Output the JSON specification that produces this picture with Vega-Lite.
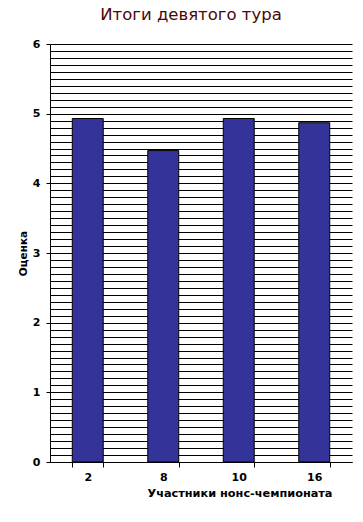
{
  "$schema": "https://vega.github.io/schema/vega-lite/v6.json",
  "width": 302,
  "height": 418,
  "autosize": {"type": "none"},
  "padding": {"left": 50, "top": 44, "right": 11, "bottom": 60},
  "background": "white",
  "title": {
    "text": "Итоги девятого тура",
    "font": "DejaVu Sans",
    "fontSize": 16.5,
    "fontWeight": "normal",
    "color": "#4a0808",
    "anchor": "middle",
    "dx": -10,
    "offset": 15
  },
  "config": {
    "view": {"stroke": null},
    "font": "DejaVu Sans"
  },
  "data": {
    "values": [
      {"participant": "2", "score": 4.93},
      {"participant": "8", "score": 4.47},
      {"participant": "10", "score": 4.93},
      {"participant": "16", "score": 4.87}
    ]
  },
  "mark": {"type": "bar", "color": "#333399", "stroke": "black", "strokeWidth": 1},
  "encoding": {
    "x": {
      "field": "participant",
      "type": "nominal",
      "sort": null,
      "scale": {"paddingInner": 0.59, "paddingOuter": 0.295},
      "axis": {
        "title": "Участники нонс-чемпионата",
        "labelAngle": 0,
        "tickBand": "extent",
        "tickSize": 5,
        "tickColor": "black",
        "domainColor": "black",
        "labelFont": "DejaVu Sans",
        "labelFontWeight": "bold",
        "labelFontSize": 11,
        "labelColor": "black",
        "labelPadding": 4,
        "titleFont": "DejaVu Sans",
        "titleFontWeight": "bold",
        "titleFontSize": 11.3,
        "titleColor": "black",
        "titleX": 282,
        "titleAlign": "right",
        "titlePadding": 5
      }
    },
    "y": {
      "field": "score",
      "type": "quantitative",
      "scale": {"domain": [0, 6], "nice": false},
      "axis": {
        "title": "Оценка",
        "values": [0,0.1,0.2,0.3,0.4,0.5,0.6,0.7,0.8,0.9,1,1.1,1.2,1.3,1.4,1.5,1.6,1.7,1.8,1.9,2,2.1,2.2,2.3,2.4,2.5,2.6,2.7,2.8,2.9,3,3.1,3.2,3.3,3.4,3.5,3.6,3.7,3.8,3.9,4,4.1,4.2,4.3,4.4,4.5,4.6,4.7,4.8,4.9,5,5.1,5.2,5.3,5.4,5.5,5.6,5.7,5.8,5.9,6],
        "labelExpr": "datum.value % 1 === 0 ? format(datum.value, 'd') : ''",
        "labelOverlap": false,
        "grid": true,
        "gridColor": "black",
        "gridOpacity": 1,
        "gridWidth": 1,
        "tickColor": "black",
        "tickSize": 4,
        "tickOpacity": {"condition": {"test": "datum.value % 1 === 0", "value": 1}, "value": 0},
        "domainColor": "black",
        "labelFont": "DejaVu Sans",
        "labelFontWeight": "bold",
        "labelFontSize": 11,
        "labelColor": "black",
        "labelPadding": 6,
        "titleFont": "DejaVu Sans",
        "titleFontWeight": "bold",
        "titleFontSize": 10.5,
        "titleColor": "black",
        "titlePadding": 4
      }
    }
  }
}
